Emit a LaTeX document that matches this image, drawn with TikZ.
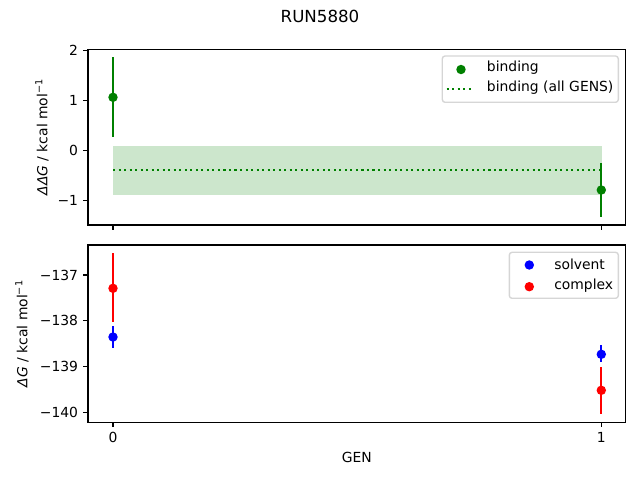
\documentclass[tikz,border=0pt]{standalone}
\usepackage{fontspec}
\setmainfont{DejaVu Sans}
\definecolor{mgreen}{HTML}{008000}
\definecolor{mband}{HTML}{CCE6CC}
\definecolor{legedge}{HTML}{CCCCCC}
\tikzset{
  spine/.style={line width=0.8pt, black},
  tick/.style={line width=0.8pt, black},
  ticklab/.style={font=\fontsize{10}{12}\selectfont, inner sep=0pt},
  errbar/.style={line width=1.5pt},
  dot/.style={circle, inner sep=0pt, minimum size=6.8pt},
  legbox/.style={draw=legedge, fill=white, fill opacity=0.8, draw opacity=0.8, rounded corners=2pt, line width=1pt},
  legtext/.style={font=\fontsize{10}{12}\selectfont, anchor=west, inner sep=0pt},
  dotline/.style={line width=1.5pt, dash pattern=on 1.5pt off 2.475pt, mgreen}
}
\begin{document}
\begin{tikzpicture}[x=0.72pt, y=-0.72pt]
\useasboundingbox (0,0) rectangle (640,480);
% title
\node[font=\fontsize{12}{14}\selectfont, inner sep=0pt] (title) at (320,16) {RUN5880};

% ===== top axes =====
\coordinate (t00) at (88,49.3);
\coordinate (t11) at (625.7,225);
% band and mean
\fill[mband] (113,146) rectangle (601.5,194.7);
\draw[dotline] (113,169.7) -- (601.5,169.7);
% error bars
\draw[errbar, mgreen] (113,57.3) -- (113,136.7);
\node[dot, fill=mgreen] (b0) at (113,97.3) {};
\draw[errbar, mgreen] (601.3,163.3) -- (601.3,216.7);
\node[dot, fill=mgreen] (b1) at (601.3,190) {};
% spines
\draw[spine] (t00) rectangle (t11);
% y ticks
\foreach \v/\lab in {2/2,1/1,0/0,-1/{−1}} {
  \pgfmathsetmacro{\yy}{150.3-49.77*\v}
  \draw[tick] (88,\yy) -- (83.1,\yy);
  \node[ticklab, anchor=east] at (78.3,\yy) {\lab};
}
% x ticks (no labels)
\draw[tick] (113,225) -- (113,229.9);
\draw[tick] (601.3,225) -- (601.3,229.9);
% y label
\node[rotate=90, font=\fontsize{10}{12}\selectfont, inner sep=0pt] (ylt) at (42,137) {\textit{ΔΔG} / kcal mol\textsuperscript{−1}};
% legend
\draw[legbox] (442.3,56) rectangle (618.3,102.3);
\node[dot, fill=mgreen] (lb) at (461,69.5) {};
\node[legtext] (lbt) at (486.7,67.5) {binding};
\draw[dotline] (446.7,88.7) -- (474.3,88.7);
\node[legtext] (lbat) at (486.7,88) {binding (all GENS)};

% ===== bottom axes =====
\coordinate (b00) at (88,245);
\coordinate (b11) at (625.7,422.3);
\draw[errbar, red] (113,253.3) -- (113,322.3);
\node[dot, fill=red] (c0) at (113,288.3) {};
\draw[errbar, blue] (113,326) -- (113,347.7);
\node[dot, fill=blue] (s0) at (113,337) {};
\draw[errbar, blue] (601.3,345) -- (601.3,361.7);
\node[dot, fill=blue] (s1) at (601.3,354.3) {};
\draw[errbar, red] (601.3,367) -- (601.3,413.7);
\node[dot, fill=red] (c1) at (601.3,390.3) {};
\draw[spine] (b00) rectangle (b11);
\foreach \v/\lab in {0/{−137},1/{−138},2/{−139},3/{−140}} {
  \pgfmathsetmacro{\yy}{275+45.77*\v}
  \draw[tick] (88,\yy) -- (83.1,\yy);
  \node[ticklab, anchor=east] at (78.3,\yy) {\lab};
}
\draw[tick] (113,422.3) -- (113,427.2);
\draw[tick] (601.3,422.3) -- (601.3,427.2);
\node[ticklab] (x0) at (113,437.3) {0};
\node[ticklab] (x1) at (601.3,437.3) {1};
\node[font=\fontsize{10}{12}\selectfont, inner sep=0pt] (xl) at (356.8,457.3) {GEN};
\node[rotate=90, font=\fontsize{10}{12}\selectfont, inner sep=0pt] (ylb) at (22,333.6) {\textit{ΔG} / kcal mol\textsuperscript{−1}};
% legend
\draw[legbox] (509.3,252.3) rectangle (618.3,298.3);
\node[dot, fill=blue] (ls) at (529.3,265) {};
\node[legtext] (lst) at (554,264.5) {solvent};
\node[dot, fill=red] (lc) at (529.3,286.7) {};
\node[legtext] (lct) at (554,285.5) {complex};
\end{tikzpicture}
\end{document}
